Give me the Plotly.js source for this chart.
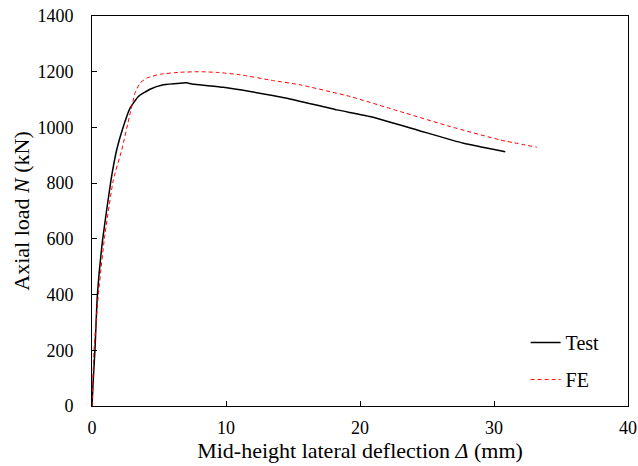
<!DOCTYPE html>
<html><head><meta charset="utf-8">
<script src="https://cdn.plot.ly/plotly-3.0.1.min.js"></script>
<style>html,body{margin:0;padding:0;background:#fff}</style>
</head><body><div id="chart" style="width:638px;height:466px"></div>
<script>
const testX = [0, 0.1, 0.22, 0.4, 0.8, 1.42, 1.84, 2.34, 2.84, 3.46, 4.33, 5.33, 6.57, 7.07, 7.45, 9.8, 11.8, 14.54, 18.27, 20.76, 24.25, 27.73, 30.84];
const testY = [0, 100, 201, 398, 600, 812, 919, 1003, 1069, 1111, 1137, 1153, 1159, 1160, 1156, 1144, 1129, 1105, 1063, 1039, 991, 943, 913];
const feX = [0, 0.15, 0.47, 0.92, 1.59, 2.22, 2.79, 3.21, 3.58, 4.08, 5.08, 6.57, 8.07, 9.5, 11.05, 13.54, 15.53, 19.27, 23.0, 26.74, 30.47, 33.2];
const feY = [0, 200, 398, 600, 812, 919, 1039, 1123, 1159, 1177, 1191, 1198, 1200, 1197, 1189, 1168, 1153, 1111, 1057, 1003, 955, 929];
const xTicks = [0, 10, 20, 30, 40];
const yTicks = [0, 200, 400, 600, 800, 1000, 1200, 1400];

const font = {family: 'Liberation Serif, Times New Roman, serif', color: '#000'};
Plotly.newPlot('chart', [
  {x: testX, y: testY, name: 'Test', legendgroup: 'a', mode: 'lines', line: {color: '#000', width: 1.5, shape: 'spline', smoothing: 0.4}},
  {x: feX, y: feY, name: 'FE', legendgroup: 'b', mode: 'lines', line: {color: '#ff0000', width: 1, dash: '4px,3px', shape: 'spline', smoothing: 0.4}}
], {
  width: 638, height: 466,
  margin: {l: 92, r: 10, t: 16, b: 60},
  paper_bgcolor: '#fff', plot_bgcolor: '#fff',
  font: Object.assign({size: 18}, font),
  showlegend: true,
  legend: {x: 0.809, y: 0.213, xanchor: 'left', yanchor: 'top', bgcolor: 'rgba(0,0,0,0)', font: Object.assign({size: 20}, font), traceorder: 'grouped', tracegroupgap: 8},
  xaxis: {
    range: [0, 40], tickvals: xTicks, ticktext: xTicks.map(String),
    showgrid: false, zeroline: false, showline: true, mirror: true, linecolor: '#000', linewidth: 1,
    ticks: 'inside', ticklen: 5, tickcolor: '#000', ticklabelstandoff: 5,
    title: {text: 'Mid-height lateral deflection <i>Δ</i> (mm)', font: Object.assign({size: 22}, font), standoff: 2}
  },
  yaxis: {
    range: [0, 1400], tickvals: yTicks, ticktext: yTicks.map(String),
    showgrid: false, zeroline: false, showline: true, mirror: true, linecolor: '#000', linewidth: 1,
    ticks: 'inside', ticklen: 5, tickcolor: '#000', ticklabelstandoff: 14,
    title: {text: 'Axial load <i>N</i> (kN)', font: Object.assign({size: 22}, font), standoff: 1}
  }
}, {staticPlot: true});
</script></body></html>
